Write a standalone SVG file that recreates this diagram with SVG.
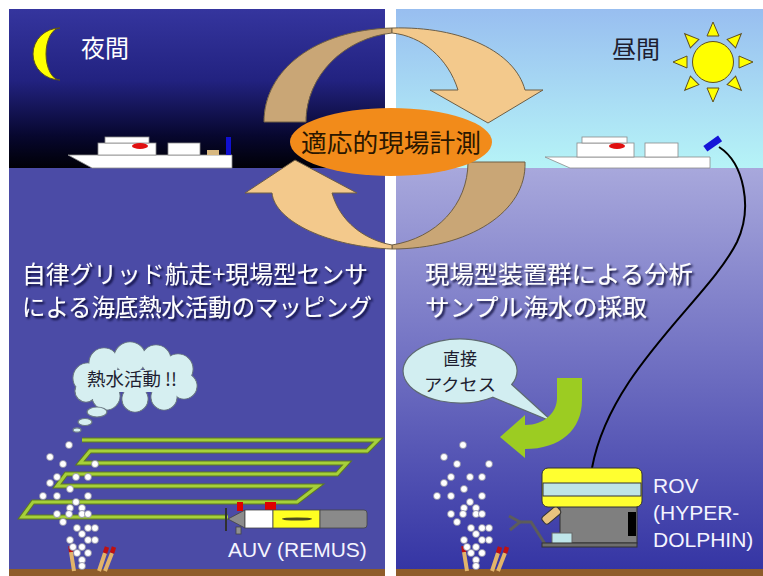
<svg xmlns="http://www.w3.org/2000/svg" xmlns:xlink="http://www.w3.org/1999/xlink" width="763" height="576" viewBox="0 0 763 576">
  <defs>
    <linearGradient id="nightSky" x1="0" y1="0" x2="0" y2="1">
      <stop offset="0" stop-color="#35359e"/>
      <stop offset="0.45" stop-color="#222280"/>
      <stop offset="0.8" stop-color="#07072e"/>
      <stop offset="1" stop-color="#000006"/>
    </linearGradient>
    <linearGradient id="daySky" x1="0" y1="0" x2="0" y2="1">
      <stop offset="0" stop-color="#98bef0"/>
      <stop offset="1" stop-color="#b6f4f7"/>
    </linearGradient>
    <linearGradient id="daySea" x1="0" y1="0" x2="0" y2="1">
      <stop offset="0" stop-color="#a8a8dc"/>
      <stop offset="0.45" stop-color="#7474c4"/>
      <stop offset="1" stop-color="#3535a4"/>
    </linearGradient>
    <filter id="shadow" x="-5%" y="-20%" width="110%" height="140%">
      <feDropShadow dx="2" dy="2" stdDeviation="1.3" flood-color="#000028" flood-opacity="0.9"/>
    </filter>
    <g id="bubbles">
      <circle cx="69" cy="445" r="3.5"/><circle cx="50" cy="457" r="3.5"/>
      <circle cx="63" cy="464" r="3.5"/><circle cx="95" cy="464" r="3.5"/>
      <circle cx="57" cy="477" r="3.5"/><circle cx="76" cy="477" r="3.5"/>
      <circle cx="88" cy="477" r="3.5"/><circle cx="50" cy="483" r="3.5"/>
      <circle cx="70" cy="489" r="3.5"/><circle cx="43" cy="496" r="3.5"/>
      <circle cx="57" cy="496" r="3.5"/><circle cx="88" cy="496" r="3.5"/>
      <circle cx="76" cy="502" r="3.5"/><circle cx="70" cy="508" r="3.5"/>
      <circle cx="82" cy="508" r="3.5"/><circle cx="57" cy="514" r="3.5"/>
      <circle cx="69" cy="514" r="3.5"/><circle cx="82" cy="514" r="3.5"/>
      <circle cx="88" cy="514" r="3.5"/><circle cx="63" cy="522" r="3.5"/>
      <circle cx="77" cy="528" r="3.5"/><circle cx="88" cy="528" r="3.5"/>
      <circle cx="95" cy="528" r="3.5"/><circle cx="82" cy="534" r="3.5"/>
      <circle cx="70" cy="540" r="3.5"/><circle cx="88" cy="540" r="3.5"/>
      <circle cx="95" cy="540" r="3.5"/><circle cx="82" cy="547" r="3.5"/>
      <circle cx="73" cy="547" r="3.5"/><circle cx="77" cy="553" r="3.5"/>
      <circle cx="88" cy="553" r="3.5"/><circle cx="82" cy="560" r="3.5"/>
      <circle cx="82" cy="566" r="3.5"/>
    </g>
    <g id="vents">
      <line x1="71" y1="552" x2="74" y2="571" class="stick"/>
      <line x1="70.5" y1="546" x2="71.2" y2="552" class="tip"/>
      <line x1="105" y1="553" x2="99" y2="571" class="stick"/>
      <line x1="107" y1="547" x2="105" y2="553" class="tip"/>
      <line x1="112" y1="553" x2="105" y2="571" class="stick"/>
      <line x1="114" y1="547" x2="112" y2="553" class="tip"/>
    </g>
    <polygon id="ray" points="713,22 707,36 719,36" fill="#ffff00" stroke="#605020" stroke-width="1"/>
  </defs>
  <style>
    .jp { font-family: "Noto Sans CJK JP", "Noto Sans", sans-serif; }
    .lat { font-family: "Liberation Sans", Arial, sans-serif; }
    .white { fill: #ffffff; }
    .dark { fill: #1e1e30; }
    .big { font-size: 24px; }
    .label { font-size: 21px; fill: #f4f4ff; }
    .hull { fill: #ffffff; stroke: #8a8a8a; stroke-width: 0.8; }
    .stick { stroke: #e2b46a; stroke-width: 4; stroke-linecap: butt; }
    .tip { stroke: #c01010; stroke-width: 4.5; }
    .bub { fill: #ffffff; stroke: #8888a0; stroke-width: 0.8; }
    .track { fill: none; stroke: #5e7a20; stroke-width: 5; stroke-linejoin: miter; }
    .track2 { fill: none; stroke: #a6d03a; stroke-width: 3; stroke-linejoin: miter; }
    .arrowDark { fill: #c9a676; stroke: #6e5e44; stroke-width: 1; }
    .arrowLight { fill: #f3c98c; stroke: #6e5e44; stroke-width: 1; }
    .cloud { fill: #d6eff1; stroke: #6c7a84; stroke-width: 1.2; }
  </style>

  <!-- backdrop: night panel (left) and day panel (right) -->
  <g id="night-panel">
    <rect x="9" y="9" width="376" height="159" fill="url(#nightSky)"/>
    <rect x="9" y="168" width="376" height="401" fill="#4b4ba6"/>
    <rect x="9" y="569" width="376" height="7" fill="#8e5c2a"/>
  </g>
  <g id="day-panel">
    <rect x="396" y="9" width="367" height="159" fill="url(#daySky)"/>
    <rect x="396" y="168" width="367" height="401" fill="url(#daySea)"/>
    <rect x="396" y="569" width="367" height="7" fill="#8e5c2a"/>
  </g>

  <!-- moon and night label -->
  <g id="moon">
    <path d="M60,28 A27,26 0 0,0 60,80 A14,26 0 0,1 60,28 Z" fill="#ffff00" stroke="#5a5020" stroke-width="1"/>
    <text x="81" y="57" class="jp big white">夜間</text>
  </g>

  <!-- sun and day label -->
  <g id="sun">
    <use xlink:href="#ray"/>
    <use xlink:href="#ray" transform="rotate(45 713 62)"/>
    <use xlink:href="#ray" transform="rotate(90 713 62)"/>
    <use xlink:href="#ray" transform="rotate(135 713 62)"/>
    <use xlink:href="#ray" transform="rotate(180 713 62)"/>
    <use xlink:href="#ray" transform="rotate(225 713 62)"/>
    <use xlink:href="#ray" transform="rotate(270 713 62)"/>
    <use xlink:href="#ray" transform="rotate(315 713 62)"/>
    <circle cx="713" cy="62" r="20.5" fill="#ffff00" stroke="#605020" stroke-width="1"/>
    <text x="612" y="58" class="jp big dark">昼間</text>
  </g>

  <!-- research vessel at night -->
  <g id="ship-night">
    <polygon points="68,155 232,155 232,168 92,168" class="hull"/>
    <rect x="98" y="143" width="58" height="12" class="hull"/>
    <rect x="105" y="137" width="44" height="6" class="hull"/>
    <ellipse cx="140" cy="146" rx="8" ry="3" fill="#e01010"/>
    <rect x="168" y="143" width="32" height="12" class="hull"/>
    <rect x="207" y="150" width="12" height="5" fill="#d8b880"/>
    <rect x="226" y="137" width="5" height="18" fill="#1010d0"/>
  </g>

  <!-- research vessel by day -->
  <g id="ship-day">
    <polygon points="545,157 710,157 710,168 570,168" class="hull"/>
    <rect x="577" y="143" width="57" height="14" class="hull"/>
    <rect x="582" y="137" width="45" height="6" class="hull"/>
    <ellipse cx="617" cy="146" rx="8" ry="3" fill="#e01010"/>
    <rect x="645" y="143" width="33" height="14" class="hull"/>
    <rect x="704" y="140" width="18" height="7" fill="#1414d8" transform="rotate(-35 713 144)"/>
  </g>

  <!-- main captions -->
  <g id="caption-night" filter="url(#shadow)">
    <text x="22" y="283" class="jp big white" textLength="346" lengthAdjust="spacingAndGlyphs">自律グリッド航走+現場型センサ</text>
    <text x="22" y="316" class="jp big white" textLength="350" lengthAdjust="spacingAndGlyphs">による海底熱水活動のマッピング</text>
  </g>
  <g id="caption-day" filter="url(#shadow)">
    <text x="425" y="283" class="jp big white" textLength="268" lengthAdjust="spacingAndGlyphs">現場型装置群による分析</text>
    <text x="425" y="316" class="jp big white" textLength="222" lengthAdjust="spacingAndGlyphs">サンプル海水の採取</text>
  </g>

  <!-- ROV tether -->
  <g id="connectors">
    <path d="M719,147 C744,163 753,208 737,242 C708,300 610,370 592,468" fill="none" stroke="#000000" stroke-width="2"/>
  </g>

  <!-- cycle arrows between night and day -->
  <g id="cycle">
    <path class="arrowDark" d="M264,122 C264,70 315,30 392,28 L392,33 C345,38 306,75 306,122 Z"/>
    <path class="arrowLight" d="M392,28 C462,26 515,52 525,90 L543,90 L488,123 L430,90 L458,90 C448,58 422,36 392,33 Z"/>
    <path class="arrowDark" d="M525,162 C527,212 468,249 392,249 L392,245 C436,238 468,205 468,162 Z"/>
    <path class="arrowLight" d="M392,249 C330,247 275,222 272,193 L245,193 L295,160 L357,193 L332,193 C340,222 365,240 392,245 Z"/>
  </g>
  <g id="hub">
    <ellipse cx="391" cy="142" rx="101" ry="34" fill="#f28b1a"/>
    <text x="391" y="152" text-anchor="middle" class="jp" font-size="25" fill="#2a1600" textLength="180" lengthAdjust="spacingAndGlyphs">適応的現場計測</text>
  </g>

  <!-- thought cloud -->
  <g id="thought">
    <g class="cloud">
      <circle cx="88" cy="378" r="15"/><circle cx="104" cy="363" r="15"/>
      <circle cx="130" cy="358" r="16"/><circle cx="156" cy="360" r="15"/>
      <circle cx="178" cy="369" r="15"/><circle cx="184" cy="386" r="13"/>
      <circle cx="164" cy="397" r="13"/><circle cx="135" cy="399" r="13"/>
      <circle cx="106" cy="396" r="14"/><circle cx="86" cy="391" r="11"/>
    </g>
    <g fill="#d6eff1">
      <circle cx="88" cy="378" r="14.4"/><circle cx="104" cy="363" r="14.4"/>
      <circle cx="130" cy="358" r="15.4"/><circle cx="156" cy="360" r="14.4"/>
      <circle cx="178" cy="369" r="14.4"/><circle cx="184" cy="386" r="12.4"/>
      <circle cx="164" cy="397" r="12.4"/><circle cx="135" cy="399" r="12.4"/>
      <circle cx="106" cy="396" r="13.4"/><circle cx="86" cy="391" r="10.4"/>
      <rect x="95" y="370" width="80" height="22"/>
    </g>
    <ellipse cx="97" cy="412" rx="10" ry="5" class="cloud"/>
    <ellipse cx="85" cy="422" rx="7" ry="3.5" class="cloud"/>
    <ellipse cx="77" cy="430" rx="4" ry="2.2" class="cloud"/>
    <text x="87" y="386" class="jp dark" font-size="18" textLength="90" lengthAdjust="spacingAndGlyphs">熱水活動 !!</text>
  </g>

  <!-- AUV survey track -->
  <g id="track">
    <polyline class="track" points="82,440 378,440 367,451 90,451 80,463 347,463 337,474 66,474 57,486 318,486 297,502 33,502 22,517 228,517"/>
    <polyline class="track2" points="82,440 378,440 367,451 90,451 80,463 347,463 337,474 66,474 57,486 318,486 297,502 33,502 22,517 228,517"/>
  </g>

  <!-- vents and plumes -->
  <g id="vent-night">
    <use xlink:href="#vents"/>
    <use xlink:href="#bubbles" class="bub"/>
  </g>
  <g id="vent-day">
    <use xlink:href="#vents" transform="translate(393 0)"/>
    <use xlink:href="#bubbles" class="bub" transform="translate(394 0)"/>
  </g>

  <!-- AUV -->
  <g id="auv" stroke="#444444" stroke-width="0.8">
    <rect x="237" y="502" width="6" height="9" fill="#e00000" stroke="none"/>
    <rect x="265" y="502" width="11" height="9" fill="#e00000" stroke="none"/>
    <rect x="236" y="527" width="5" height="7" fill="#909090"/>
    <polygon points="228,519 245,510 245,528" fill="#8c8c8c"/>
    <line x1="226" y1="508" x2="226" y2="531" stroke="#303030" stroke-width="2"/>
    <rect x="245" y="510" width="28" height="18" fill="#ffffff"/>
    <rect x="273" y="510" width="47" height="18" fill="#ffff22"/>
    <ellipse cx="297" cy="519" rx="15" ry="1.6" fill="#4a4a20" stroke="none"/>
    <path d="M320,510 L364,510 Q367,510 367,513 L367,525 Q367,528 364,528 L320,528 Z" fill="#8a8a8a"/>
    <text x="228" y="557" class="lat label" stroke="none">AUV (REMUS)</text>
  </g>

  <!-- callout -->
  <g id="callout">
    <path d="M511.7,384.5 L553,422 L492.7,397.2 A57,32 0 1,1 511.7,384.5 Z" fill="#d2eef1" stroke="#5e6a72" stroke-width="1.2"/>
    <text x="460" y="365" text-anchor="middle" class="jp dark" font-size="17">直接</text>
    <text x="460" y="391" text-anchor="middle" class="jp dark" font-size="17" textLength="72" lengthAdjust="spacingAndGlyphs">アクセス</text>
  </g>

  <!-- approach arrow -->
  <g id="access-arrow">
    <path d="M557,378 L582,378 L582,400 C582,430 560,449 525,449 L525,458 L500,437 L525,415 L525,425 C545,425 557,412 557,398 Z" fill="#9ccc22"/>
  </g>

  <!-- ROV -->
  <g id="rov" stroke="#333333" stroke-width="1">
    <polyline points="545,544 531,522 520,522" fill="none" stroke="#5c5c5c" stroke-width="3"/>
    <polyline points="509,516 520,522 510,530" fill="none" stroke="#5c5c5c" stroke-width="3"/>
    <rect x="560" y="506" width="77" height="37" fill="#7f7f7f"/>
    <rect x="628" y="512" width="8" height="24" fill="#000000" stroke="none"/>
    <rect x="552" y="533" width="20" height="11" fill="#bfe6ea" stroke="#666666"/>
    <rect x="541" y="511" width="20" height="9" rx="3" fill="#e8c27e" transform="rotate(-40 551 515)"/>
    <rect x="542" y="543" width="95" height="4" fill="#6e6e6e"/>
    <rect x="542" y="468" width="100" height="39" rx="6" fill="#ffff30"/>
    <rect x="543" y="483" width="98" height="13" fill="#bfe4e6"/>
    <text x="653" y="493" class="lat label" font-size="22" stroke="none">ROV</text>
    <text x="653" y="520" class="lat label" font-size="22" stroke="none">(HYPER-</text>
    <text x="653" y="547" class="lat label" font-size="22" stroke="none">DOLPHIN)</text>
  </g>
</svg>
